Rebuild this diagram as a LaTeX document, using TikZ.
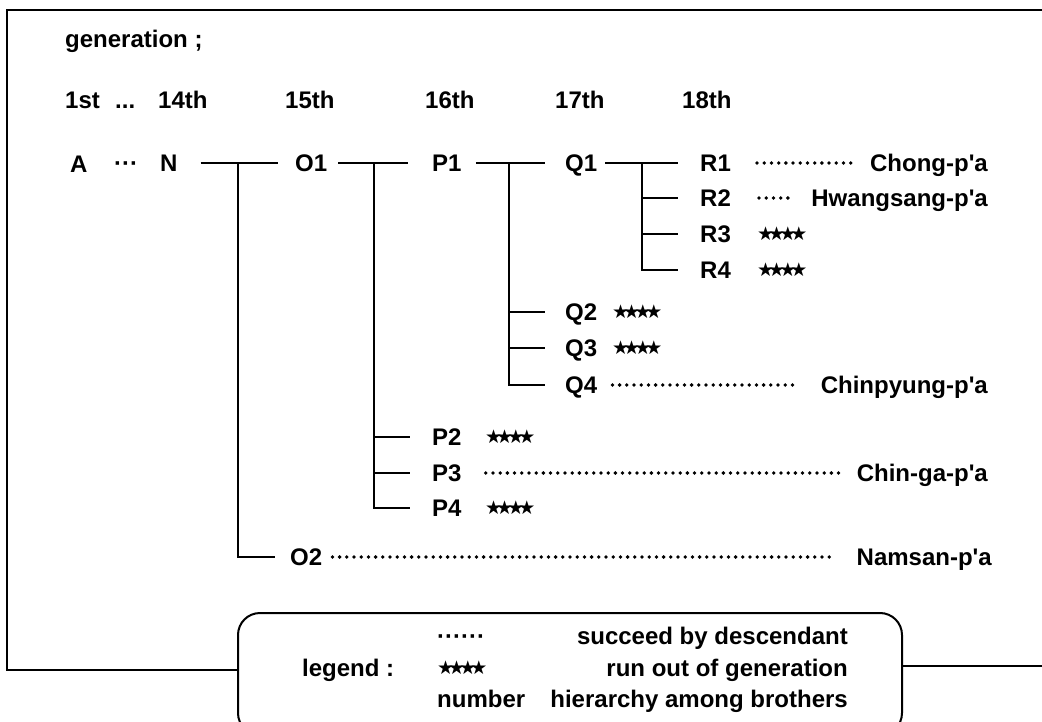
\documentclass[tikz,border=0pt]{standalone}
\usepackage{fontspec}
\setmainfont{Liberation Sans}
\newfontfamily\symf{DejaVu Sans}
\newcommand\fourstars{★\kern-6pt★\kern-6pt★\kern-6pt★}
\begin{document}
\begin{tikzpicture}[x=1pt,y=-1pt,
  font=\bfseries\fontsize{24}{28}\selectfont,
  lbl/.style={inner sep=0pt, text height=17.2pt, text depth=0pt, anchor=west},
  rlbl/.style={lbl, anchor=east},
  conn/.style={line width=2pt},
  leader/.style={line width=3.8pt, line cap=round, dash pattern=on 0pt off 7.2pt},
  stars/.style={inner sep=0pt, anchor=west, font=\symf\bfseries\fontsize{19}{19}\selectfont},
  ]
\useasboundingbox (0,0) rectangle (1042,722);
\clip (0,0) rectangle (1042,722);

% header
\node[lbl] (gen) at (65,39) {generation ;};
\node[lbl] (g1) at (65,100) {1st};
\node[lbl] (gdots) at (115,100) {...};
\node[lbl] (g14) at (158,100) {14th};
\node[lbl] (g15) at (285,100) {15th};
\node[lbl] (g16) at (425,100) {16th};
\node[lbl] (g17) at (555,100) {17th};
\node[lbl] (g18) at (682,100) {18th};

% tree labels
\node[lbl] (A) at (70,164) {A};
\node[lbl] (Adots) at (114,163) {···};
\node[lbl] (N) at (160,163) {N};
\node[lbl] (O1) at (295,163) {O1};
\node[lbl] (P1) at (432,163) {P1};
\node[lbl] (Q1) at (565,163) {Q1};
\node[lbl] (R1) at (700,163) {R1};
\node[lbl] (R2) at (700,198) {R2};
\node[lbl] (R3) at (700,234) {R3};
\node[lbl] (R4) at (700,270) {R4};
\node[lbl] (Q2) at (565,312) {Q2};
\node[lbl] (Q3) at (565,348) {Q3};
\node[lbl] (Q4) at (565,385) {Q4};
\node[lbl] (P2) at (432,437) {P2};
\node[lbl] (P3) at (432,473) {P3};
\node[lbl] (P4) at (432,508) {P4};
\node[lbl] (O2) at (290,557) {O2};

% branch names
\node[rlbl] (chong) at (988,163) {Chong-p\textquotesingle a};
\node[rlbl] (hwang) at (988,198) {Hwangsang-p\textquotesingle a};
\node[rlbl] (chinp) at (988,385) {Chinpyung-p\textquotesingle a};
\node[rlbl] (ching) at (988,473) {Chin-ga-p\textquotesingle a};
\node[rlbl] (nams) at (992,557) {Namsan-p\textquotesingle a};

% stars
\node[stars] (sR3) at (757,234) {\fourstars};
\node[stars] (sR4) at (757,270) {\fourstars};
\node[stars] (sQ2) at (612,312) {\fourstars};
\node[stars] (sQ3) at (612,348) {\fourstars};
\node[stars] (sP2) at (485,437) {\fourstars};
\node[stars] (sP4) at (485,508) {\fourstars};

% junctions
\coordinate (jN) at (238,163);
\coordinate (jO) at (374,163);
\coordinate (jP) at (509,163);
\coordinate (jQ) at (642,163);

% connectors
\draw[conn] ([xshift=23pt]N.east) -- ([xshift=-17pt]O1.west);
\draw[conn] (jN) |- ([xshift=-15pt]O2.west);
\draw[conn] ([xshift=11pt]O1.east) -- ([xshift=-24pt]P1.west);
\draw[conn] (jO) |- ([xshift=-22pt]P4.west);
\draw[conn] (jO |- P2.west) -- ([xshift=-22pt]P2.west);
\draw[conn] (jO |- P3.west) -- ([xshift=-22pt]P3.west);
\draw[conn] ([xshift=14pt]P1.east) -- ([xshift=-20pt]Q1.west);
\draw[conn] (jP) |- ([xshift=-20pt]Q4.west);
\draw[conn] (jP |- Q2.west) -- ([xshift=-20pt]Q2.west);
\draw[conn] (jP |- Q3.west) -- ([xshift=-20pt]Q3.west);
\draw[conn] ([xshift=8pt]Q1.east) -- ([xshift=-22pt]R1.west);
\draw[conn] (jQ) |- ([xshift=-22pt]R4.west);
\draw[conn] (jQ |- R2.west) -- ([xshift=-22pt]R2.west);
\draw[conn] (jQ |- R3.west) -- ([xshift=-22pt]R3.west);

% leaders
\draw[leader] ([xshift=26pt]R1.east) -- ([xshift=-17pt]chong.west);
\draw[leader] ([xshift=28pt]R2.east) -- ([xshift=-19pt]hwang.west);
\draw[leader] ([xshift=15pt]Q4.east) -- ([xshift=-24pt]chinp.west);
\draw[leader] ([xshift=24pt]P3.east) -- ([xshift=-15pt]ching.west);
\draw[leader] ([xshift=10pt]O2.east) -- ([xshift=-24pt]nams.west);

% legend
\node[draw, line width=2pt, rounded corners=22pt, minimum width=664pt,
      minimum height=122pt, inner sep=0pt] (legend) at (570,674) {};
\node[lbl] (legt) at (302,668) {legend :};
\node[lbl] (ldots) at (437,636) {······};
\node[stars] (lstars) at (437,668) {\fourstars};
\node[lbl] (lnum) at (437,699) {number};
\node[rlbl] (l1) at (848,636) {succeed by descendant};
\node[rlbl] (l2) at (848,668) {run out of generation};
\node[rlbl] (l3) at (848,699) {hierarchy among brothers};

% frame
\coordinate (tr) at (1042,10);
\coordinate (tl) at (7,10);
\coordinate (bl) at (7,670);
\coordinate (br) at (1042,666);
\draw[conn] (tr) -- (tl) -- (bl) -- ([yshift=4pt]legend.west);
\draw[conn] ([yshift=8pt]legend.east) -- (br);
\end{tikzpicture}
\end{document}
